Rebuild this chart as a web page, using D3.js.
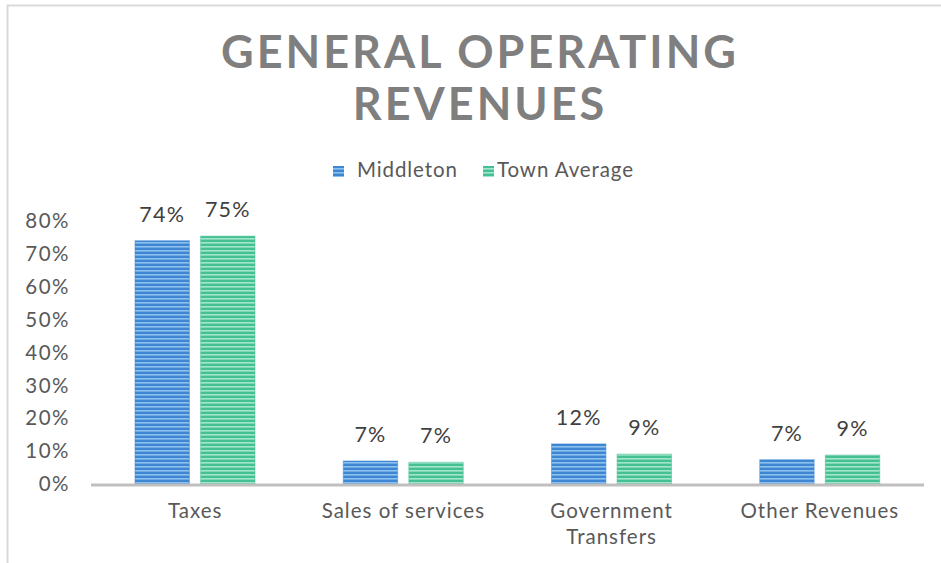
<!DOCTYPE html>
<html>
<head>
<meta charset="utf-8">
<script src="https://cdn.jsdelivr.net/npm/d3@7"></script>
<style>
  html, body { margin: 0; padding: 0; background: #fff; }
  svg { display: block; font-family: "Lato", "Open Sans", sans-serif; }
</style>
</head>
<body>
<div id="chart"></div>
<script>
const categories = [["Taxes"], ["Sales of services"], ["Government", "Transfers"], ["Other Revenues"]];
const seriesNames = ["Middleton", "Town Average"];
const middleton = [0.74, 0.07, 0.122, 0.074];
const townAverage = [0.754, 0.066, 0.091, 0.088];
const yTicks = [0, 0.1, 0.2, 0.3, 0.4, 0.5, 0.6, 0.7, 0.8];

const W = 941, H = 563;
const colors = {
  "Middleton": { base: "#3f86d2", stripe: "#8cc0ee" },
  "Town Average": { base: "#45c095", stripe: "#a3e6cb" }
};

const svg = d3.select("#chart").append("svg")
  .attr("width", W).attr("height", H);

// stripe patterns
const defs = svg.append("defs");
seriesNames.forEach((name, i) => {
  const p = defs.append("pattern")
    .attr("id", "pat" + i)
    .attr("patternUnits", "userSpaceOnUse")
    .attr("width", 8).attr("height", 4);
  p.append("rect").attr("width", 8).attr("height", 4).attr("fill", colors[name].base);
  p.append("rect").attr("y", 2).attr("width", 8).attr("height", 1.6).attr("fill", colors[name].stripe);
});

// chart frame
svg.append("rect")
  .attr("x", 7.5).attr("y", 5.5)
  .attr("width", W + 10).attr("height", H + 10)
  .attr("fill", "none").attr("stroke", "#d9d9d9").attr("stroke-width", 2);

// title
const title = svg.append("text")
  .attr("text-anchor", "middle")
  .attr("fill", "#7f7f7f")
  .attr("font-weight", "bold")
  .attr("font-size", 45)
  .attr("letter-spacing", 3);
title.append("tspan").attr("x", 480).attr("y", 68).text("GENERAL OPERATING");
title.append("tspan").attr("x", 480).attr("y", 120).text("REVENUES");

// legend
const legendItems = [{ name: "Middleton", x: 333, gap: 24 }, { name: "Town Average", x: 483, gap: 14 }];
const lg = svg.append("g").selectAll("g").data(legendItems).join("g")
  .attr("transform", d => `translate(${d.x},166)`);
lg.append("rect").attr("width", 11).attr("height", 11)
  .attr("fill", (d, i) => `url(#pat${i})`);
lg.append("text").attr("x", d => d.gap).attr("y", 11)
  .attr("font-size", 20.5).attr("letter-spacing", 0.9).attr("fill", "#595959").text(d => d.name);

// scales
const x0 = d3.scaleBand().domain(d3.range(categories.length)).range([91, 924]);
const x1 = d3.scaleBand().domain(seriesNames).range([44, 164]).paddingInner(0.17);
const y = d3.scaleLinear().domain([0, 0.8]).range([484, 221]);

// y axis labels
svg.append("g").selectAll("text").data(yTicks).join("text")
  .attr("x", 70).attr("y", d => y(d)).attr("dy", "0.35em")
  .attr("text-anchor", "end").attr("font-size", 20.5).attr("letter-spacing", 1.5)
  .attr("fill", "#595959")
  .text(d3.format(".0%"));

// bars
const data = [middleton, townAverage];
const groups = svg.append("g").selectAll("g").data(categories).join("g")
  .attr("transform", (d, i) => `translate(${x0(i)},0)`);

groups.selectAll("rect").data((d, i) => seriesNames.map((s, k) => ({ s, k, v: data[k][i] })))
  .join("rect")
  .attr("x", d => x1(d.s)).attr("width", x1.bandwidth())
  .attr("y", d => y(d.v)).attr("height", d => y(0) - y(d.v))
  .attr("fill", d => `url(#pat${d.k})`)
  .attr("stroke", d => colors[d.s].base).attr("stroke-opacity", 0.5);

groups.selectAll("text.val").data((d, i) => seriesNames.map((s, k) => ({ s, k, v: data[k][i] })))
  .join("text").attr("class", "val")
  .attr("x", d => x1(d.s) + x1.bandwidth() / 2).attr("y", d => y(d.v) - 19)
  .attr("text-anchor", "middle").attr("font-size", 21.5).attr("letter-spacing", 1.2)
  .attr("fill", "#404040")
  .text(d => Math.round(d.v * 100) + "%");

// x axis line
svg.append("line")
  .attr("x1", 91).attr("x2", 924).attr("y1", y(0) + 1).attr("y2", y(0) + 1)
  .attr("stroke", "#bfbfbf").attr("stroke-width", 3);

// category labels
groups.append("text")
  .attr("x", x0.bandwidth() / 2).attr("text-anchor", "middle")
  .attr("font-size", 20.5).attr("letter-spacing", 1).attr("fill", "#595959")
  .selectAll("tspan").data(d => d).join("tspan")
  .attr("x", x0.bandwidth() / 2).attr("y", (d, i) => 518 + i * 26)
  .text(d => d);
</script>
</body>
</html>
